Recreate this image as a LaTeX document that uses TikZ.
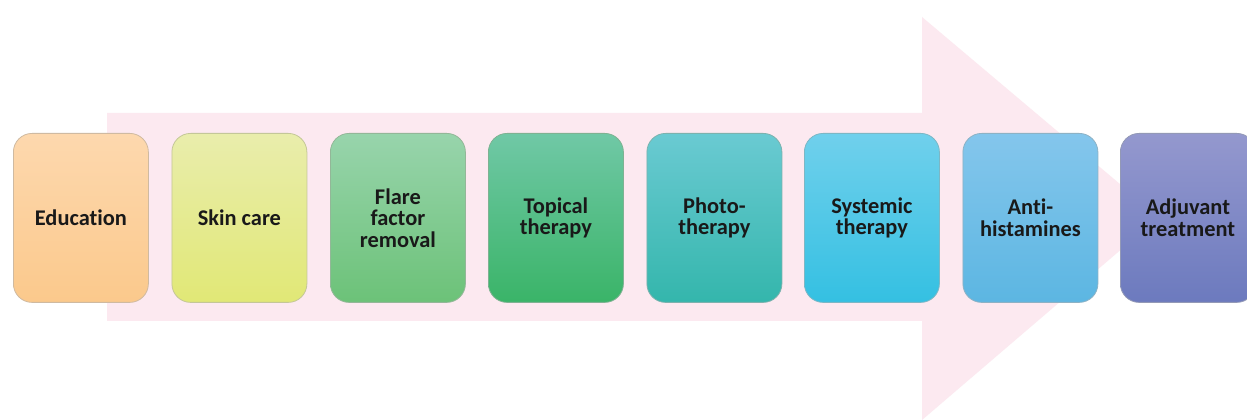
\documentclass[tikz,border=0pt]{standalone}
\usepackage{fontspec}
\setmainfont{Carlito}[Ligatures=NoCommon]
\begin{document}
\begin{tikzpicture}[x=0.75pt,y=-0.75pt,
  stage/.style={draw=#1!70!black!60, line width=0.6pt, rounded corners=14pt,
    minimum width=135*0.75pt, minimum height=169*0.75pt, inner sep=0pt,
    align=center, font=\bfseries\fontsize{16.8pt}{16.2pt}\selectfont, text=black!90,
    anchor=north west}]
\definecolor{bgpink}{RGB}{252,233,240}
\definecolor{c1t}{RGB}{253,216,174}\definecolor{c1b}{RGB}{251,201,140}
\definecolor{c2t}{RGB}{233,237,172}\definecolor{c2b}{RGB}{225,232,118}
\definecolor{c3t}{RGB}{152,212,172}\definecolor{c3b}{RGB}{108,194,120}
\definecolor{c4t}{RGB}{112,200,166}\definecolor{c4b}{RGB}{58,180,104}
\definecolor{c5t}{RGB}{106,202,210}\definecolor{c5b}{RGB}{52,182,172}
\definecolor{c6t}{RGB}{112,208,236}\definecolor{c6b}{RGB}{52,192,226}
\definecolor{c7t}{RGB}{132,198,236}\definecolor{c7b}{RGB}{92,182,226}
\definecolor{c8t}{RGB}{148,152,206}\definecolor{c8b}{RGB}{108,122,190}
\useasboundingbox (0,0) rectangle (1247,420);
\fill[white] (0,0) rectangle (1247,420);
\fill[bgpink] (107,113) -- (922,113) -- (922,17) -- (1159,217) -- (922,420) -- (922,321) -- (107,321) -- cycle;
\node[stage=c1b, top color=c1t, bottom color=c1b] (n1) at (13,133) {Education};
\node[stage=c2b, top color=c2t, bottom color=c2b] (n2) at (171.5,133) {Skin care};
\node[stage=c3b, top color=c3t, bottom color=c3b] (n3) at (330,133) {Flare\\factor\\removal};
\node[stage=c4b, top color=c4t, bottom color=c4b] (n4) at (488,133) {Topical\\therapy};
\node[stage=c5b, top color=c5t, bottom color=c5b] (n5) at (646.5,133) {Photo-\\therapy};
\node[stage=c6b, top color=c6t, bottom color=c6b] (n6) at (804,133) {Systemic\\therapy};
\node[stage=c7b, top color=c7t, bottom color=c7b] (n7) at (962.5,133) {Anti-\\histamines};
\node[stage=c8b, top color=c8t, bottom color=c8b] (n8) at (1120,133) {Adjuvant\\treatment};
\end{tikzpicture}
\end{document}
